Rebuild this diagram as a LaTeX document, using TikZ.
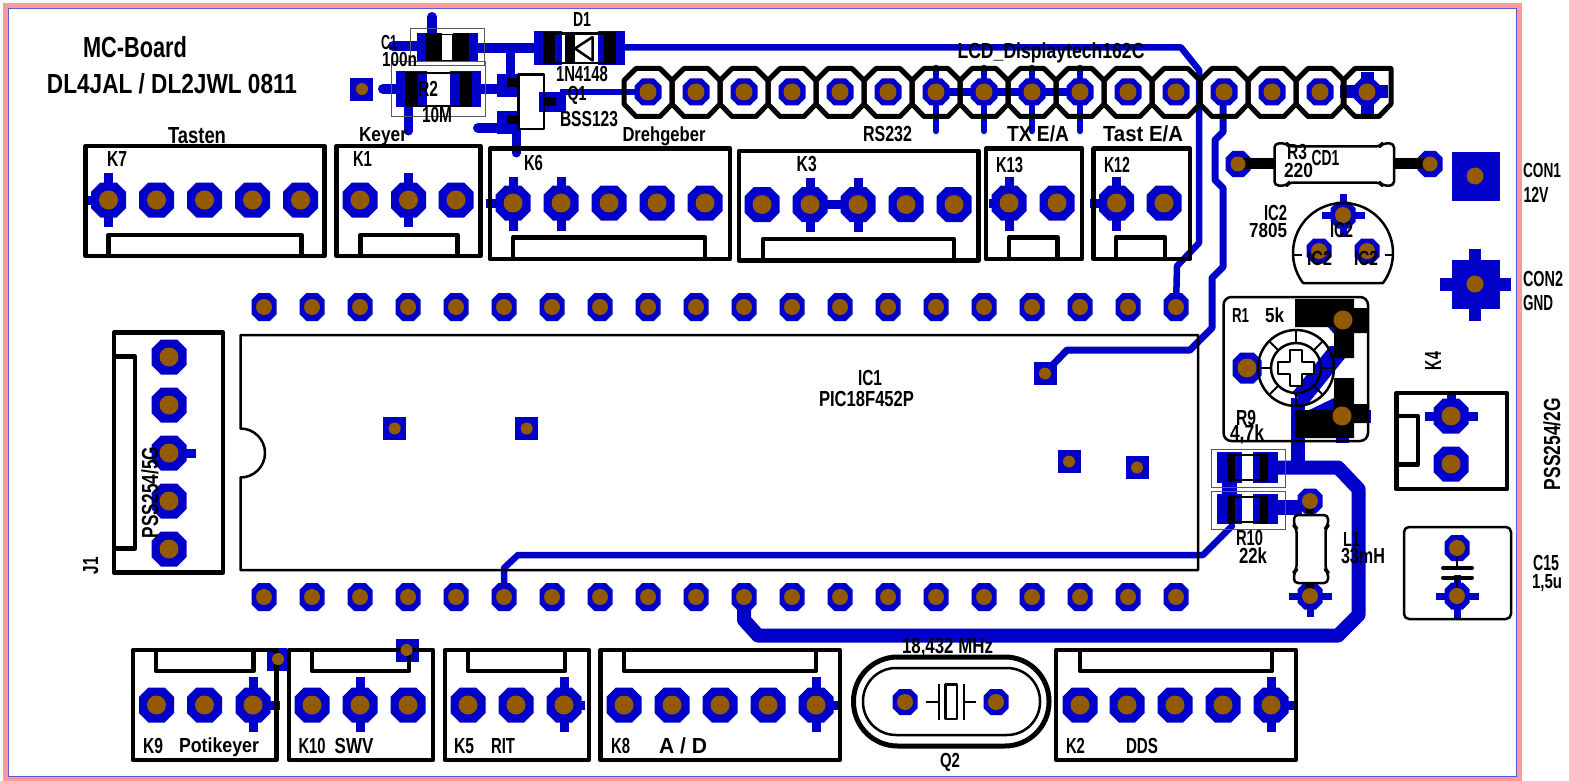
\documentclass[tikz,border=0pt]{standalone}
\usepackage{fontspec}
\usepackage{graphicx}
\usetikzlibrary{calc}
\setmainfont{Liberation Sans}
\definecolor{pblue}{RGB}{0,0,200}
\definecolor{pbrown}{RGB}{148,90,0}
\definecolor{ppink}{RGB}{255,153,153}
\definecolor{pedge}{RGB}{90,90,220}
\newcounter{txt}
\tikzset{
  tr/.style={draw=pblue,line width=#1,line join=round,line cap=round},
  st/.style={draw=pblue,line width=#1},
  sk/.style={draw=black,line width=#1,line join=round},
  thinbox/.style={draw=black!65,line width=1pt},
}
% octagon: x y w h
\newcommand\octa[4]{\fill[pblue] (#1-#3/2+.27*#3,#2-#4/2) -- (#1+#3/2-.27*#3,#2-#4/2) -- (#1+#3/2,#2-#4/2+.27*#3) -- (#1+#3/2,#2+#4/2-.27*#3) -- (#1+#3/2-.27*#3,#2+#4/2) -- (#1-#3/2+.27*#3,#2+#4/2) -- (#1-#3/2,#2+#4/2-.27*#3) -- (#1-#3/2,#2-#4/2+.27*#3) -- cycle;}
\newcommand\drill[3]{\fill[pbrown] (#1,#2) circle[radius=#3pt/2];}
\newcommand\T[6][0]{\stepcounter{txt}\node (txt\arabic{txt}) [anchor=base,inner sep=0pt,rotate=#1] at (#2,#3) {\resizebox{#4pt}{#5pt}{\bfseries\rule{0pt}{\fontcharht\font`H}\smash{#6}}};}
\newcommand\connbox[7]{% x1 x2 y1 y2 notchx1 notchx2 notchy
  \draw[sk=4.5pt] (#1,#3) rectangle (#2,#4);
  \draw[sk=4.5pt] (#5,#3) |- (#6,#7) -- (#6,#3);}
\newcommand\connboxB[7]{%
  \draw[sk=4.5pt] (#1,#3) rectangle (#2,#4);
  \draw[sk=4.5pt] (#5,#4) |- (#6,#7) -- (#6,#4);}
\def\bigpads{108.5/200,156.5/200,204.5/200,252.5/200,300.5/200,
 360/200,408.5/200,456/200,
 513/203,561/203,609/203,657/203,705/203,
 762/204.5,810/204.5,858/204.5,906/204.5,954/204.5,
 1009/203,1057/203,1116.5/203,1164/203,
 156.5/705,204.5/705,253/705,312/705,360/705,408/705,468/705,516/705,564/705,
 624/705,672/705,720/705,768/705,816/705,
 1080/705,1127/705,1175/705,1223/705,1271/705,
 169/357,169/405,169/453,169/501,169/549,1451/416,1451/464}
\def\sqpads{394.7/428.5,526.7/428.5,1045.5/373.5,1069/461.5,1137.5/467.5,361.5/89.5,407.5/650.5}
\begin{document}
\begin{tikzpicture}[x=1pt,y=-1pt]
\useasboundingbox (0,0) rectangle (1569,781);
\fill[white] (0,0) rectangle (1569,781);
\draw[ppink,line width=5.5pt] (5.5,5.5) rectangle (1519.5,778.5);
\draw[pedge,line width=.8pt] (8.5,8.5) rectangle (1516.5,776.5);
%%% copper: traces
\draw[tr=6.5pt] (625,47.5) -- (1181,47.5) -- (1199,70) -- (1199,243) -- (1177,266) -- (1176,307);
\draw[tr=7pt] (1223,92) -- (1223,132) -- (1215,140) -- (1215,180) -- (1223,188) -- (1223,267) -- (1212,278) -- (1212,328) -- (1190,350) -- (1067,350) -- (1045,373);
\draw[tr=6.5pt] (504,597) -- (504,568) -- (518,555) -- (1203,555) -- (1232,526);
\draw[tr=14pt] (744,597) -- (744,620) -- (758,635.5) -- (1338,635.5) -- (1358.5,615) -- (1358.5,489) -- (1338,467.5) -- (1278,467.5);
\draw[st=14pt] (1298,468) -- (1298,398);
\fill[pblue] (1292,393) -- (1330,346) -- (1345,346) -- (1345,358) -- (1307,405) -- cycle;
\fill[pblue] (1328,327) -- (1335,327) -- (1335,335) -- cycle;
\fill[pblue] (1305,412) -- (1334,398) -- (1336,412) -- cycle;
\draw[st=15pt] (1278,507) -- (1302,507);
\fill[pblue] (1222,482) rectangle (1237,495);
\draw[tr=10pt] (393,46) -- (417,46);
\draw[tr=10pt] (432,17) -- (432,35);
\draw[st=10pt] (478,48) -- (535,48);
\draw[st=9pt] (510,48) -- (510,80);
\draw[tr=10pt] (383,89) -- (397,89);
\draw[st=10pt] (480,89) -- (500,89);
\draw[tr=9pt] (408.5,105) -- (408.5,131);
\draw[tr=10pt] (478,128) -- (505,128);
\draw[tr=9pt] (516,130) -- (516,153);
\draw[st=6pt] (560,92) -- (648,92);
\draw[st=8pt] (936,92) -- (1080,92);
\foreach \x in {936,984,1032,1080} \draw[tr=6.5pt] (\x,68) -- (\x,131);
%%% copper: SMD lands
\fill[pblue] (417,33) rectangle (441.5,62);
\fill[pblue] (453,33) rectangle (478,62);
\fill[pblue] (396,71) rectangle (426.5,107.5);
\fill[pblue] (450,71) rectangle (481,107.5);
\fill[pblue] (534,31) rectangle (562,65);
\fill[pblue] (598,31) rectangle (625,65);
\fill[pblue] (497,74) rectangle (520,97);
\fill[pblue] (497,111) rectangle (520,134);
\fill[pblue] (539,92) rectangle (566,112);
\fill[pblue] (1217,452) rectangle (1242,483);
\fill[pblue] (1253,452) rectangle (1278,483);
\fill[pblue] (1217,494) rectangle (1242,524);
\fill[pblue] (1253,494) rectangle (1278,524);
%%% copper: stubs
\foreach \x/\y in {108.5/200,408.5/200,513/204,561/204,810/205,858/205,1009/204,1116.5/204} \draw[st=9pt] (\x,\y-27) -- (\x,\y+27);
\foreach \x/\y in {253/705,360/705,564/705,816/705,1271/705} \draw[st=9pt] (\x,\y-28) -- (\x,\y+27);
\draw[st=9pt] (86,200) -- (108,200);
\draw[st=9pt] (486,203) -- (513,203);
\draw[st=9pt] (810,204.5) -- (858,204.5);
\draw[st=9pt] (989,203) -- (1009,203);
\draw[st=9pt] (1090,203) -- (1116,203);
\draw[st=9pt] (253,705) -- (280,705);
\draw[st=9pt] (564,705) -- (585,705);
\draw[st=9pt] (816,705) -- (838,705);
\draw[st=9pt] (1271,705) -- (1298,705);
\draw[st=9pt] (169,453) -- (196,453);
\draw[st=9pt] (1425,416) -- (1478,416);
\draw[st=9pt] (1451,394) -- (1451,416);
\draw[st=13pt] (1340,416) -- (1371,416);
\draw[st=13pt] (1342,416) -- (1342,443);
\draw[st=7pt] (1322,215) -- (1365,215);
\draw[st=7pt] (1343,194) -- (1343,237);
\draw[st=7pt] (1289,596) -- (1332,596);
\draw[st=7pt] (1310,575) -- (1310,617);
\draw[st=7pt] (1436,596) -- (1479,596);
\draw[st=7pt] (1457,575) -- (1457,619);
\draw[st=13pt] (1340,92) -- (1388,92);
\draw[st=13pt] (1367,72) -- (1367,119);
\draw[st=13pt] (1440,284.5) -- (1511,284.5);
\draw[st=12pt] (1475,249) -- (1475,321);
%%% copper: pads
\foreach \x/\y in \bigpads \octa{\x}{\y}{35}{35};
\foreach \x in {0,...,19} {\octa{264+48*\x}{307}{25}{28} \octa{264+48*\x}{597}{25}{28}}
\foreach \x in {648,696,744,792,840,888,936,984,1032,1080,1128,1176,1224,1272,1320,1367} \octa{\x}{92}{27}{27};
\foreach \x/\y in \sqpads \fill[pblue] (\x-11.5,\y-11.5) rectangle (\x+11.5,\y+11.5);
\fill[pblue] (267,648) rectangle (287,671);
\fill[pblue] (1451.5,152) rectangle (1500,201);
\fill[pblue] (1451.5,260) rectangle (1500,309);
\octa{1238}{164}{25}{26} \octa{1430}{164}{25}{26}
\octa{1343}{215}{25}{27} \octa{1319}{251}{25}{25} \octa{1367}{251}{25}{25}
\octa{1247}{368}{29}{31}
\octa{1310}{501}{25}{25} \octa{1310}{596}{25}{27}
\octa{1457}{548}{25}{26} \octa{1457}{596}{25}{27}
\octa{905}{702}{25}{26} \octa{996}{702}{25}{26}
%%% silk: connector housings
\connbox{85.5}{324.5}{256}{146}{108.5}{301.5}{235}
\connbox{336.7}{480.4}{256}{146}{360.5}{457.5}{235}
\connbox{489.8}{730}{259}{148.7}{513}{705}{237.3}
\connbox{739}{978.5}{260.3}{151}{763}{954}{239}
\connbox{986}{1082}{259}{148.7}{1009}{1057.5}{237.3}
\connbox{1093.7}{1190}{259}{148.7}{1116}{1165}{237.3}
\connboxB{133}{276.6}{760}{650}{156}{253.6}{671}
\connboxB{289}{433}{760}{650}{312}{409}{671}
\connboxB{444.8}{589}{760}{650}{468}{565}{671}
\connboxB{600.5}{840}{760}{650}{624}{816}{671}
\connboxB{1056}{1296}{760}{650}{1080}{1272}{671}
\draw[sk=4.5pt] (114,332.5) rectangle (223,572.7);
\draw[sk=4.5pt] (114,356.7) -| (135,548.7) -- (114,548.7);
\draw[sk=4.5pt] (1396.3,393) rectangle (1507,489);
\draw[sk=4.5pt] (1396.3,416.2) -| (1418,464.5) -- (1396.3,464.5);
%%% silk: LCD header
\foreach \x in {648,696,744,792,840,888,936,984,1032,1080,1128,1176,1224,1272,1320}
 \draw[sk=5pt] (\x-12,68.5) -- (\x+12,68.5) -- (\x+24,80.5) -- (\x+24,104) -- (\x+12,116.5) -- (\x-12,116.5) -- (\x-24,104) -- (\x-24,80.5) -- cycle;
\draw[sk=5pt] (1355,68.5) -- (1391,68.5) -- (1391,104) -- (1379,116.5) -- (1355,116.5) -- (1343,104) -- (1343,80.5) -- cycle;
%%% silk: IC1
\draw[sk=2.5pt] (240.5,477.5) arc[start angle=-90,end angle=90,radius=24.5pt] -- (240.5,335) -- (1198,335) -- (1198,570) -- (240.5,570) -- cycle;
%%% silk: C1, R2
\draw[thinbox] (410,28.5) rectangle (484,66);
\draw[thinbox] (391.5,62) rectangle (485,117);
\fill (426,33.5) rectangle (441.5,61.5);
\fill (453,33.5) rectangle (469,61.5);
\draw[sk=1.8pt] (441.5,34.5) rectangle (453,60.5);
\fill (406,72) rectangle (418,107);
\fill (460,72) rectangle (471,107);
\draw[sk=2.2pt] (406,73) rectangle (471,106);
%%% silk: D1
\fill (544,32) rectangle (555,64.5);
\fill (604,32) rectangle (615,64.5);
\draw[sk=2.5pt] (544,33.5) rectangle (615,63);
\fill (565,33) rectangle (575,63);
\draw[sk=2.5pt] (575,48.5) -- (592.5,37) -- (592.5,60.5) -- cycle;
%%% silk: Q1
\fill (507,78) rectangle (520,87);
\fill (507,115) rectangle (520,124);
\fill (544,97) rectangle (556,106);
\draw[sk=2.5pt] (518.5,74.5) rectangle (544,129);
%%% silk: R3 / CD1
\draw[sk=11pt] (1238,164) -- (1275,164);
\draw[sk=11pt] (1394,164) -- (1430,164);
\draw[sk=2.5pt,fill=white,rounded corners=4pt] (1274.5,143.5) -- (1287,143.5) -- (1289,146.5) -- (1380,146.5) -- (1382,143.5) -- (1394,143.5) -- (1394,185.5) -- (1382,185.5) -- (1380,182.5) -- (1289,182.5) -- (1287,185.5) -- (1274.5,185.5) -- cycle;
%%% silk: IC2
\draw[sk=2.5pt] (1303,283) arc[start angle=216.9,end angle=-36.9,radius=50pt] -- cycle;
\draw[sk=2.5pt] (1293,255) -- (1302,255);
\draw[sk=2.5pt] (1385,255) -- (1394,255);
%%% silk: R1
\draw[sk=2.5pt,rounded corners=8pt] (1223.5,297) rectangle (1368,441);
\fill (1295,299) -- (1354,299) -- (1354,308) -- (1368,308) -- (1368,333) -- (1354,333) -- (1354,358) -- (1334,358) -- (1334,327) -- (1295,327) -- cycle;
\fill (1334,378) -- (1354,378) -- (1354,404) -- (1369,404) -- (1369,423) -- (1354,423) -- (1354,438) -- (1295,438) -- (1295,410) -- (1334,410) -- cycle;
\draw[sk=2.5pt] (1296,368) circle[radius=38pt];
\draw[sk=2.5pt] (1296,368) circle[radius=25pt];
\foreach \a in {0,45,...,315} \draw[sk=2pt] ($(1296,368)+(\a:25pt)$) -- ($(1296,368)+(\a:38pt)$);
\draw[sk=2.5pt,fill=white] (1290,350) -- (1302,350) -- (1302,362) -- (1314,362) -- (1314,374) -- (1302,374) -- (1302,386) -- (1290,386) -- (1290,374) -- (1278,374) -- (1278,362) -- (1290,362) -- cycle;
%%% silk: R9, R10
\draw[thinbox] (1211,449) rectangle (1285,487);
\draw[thinbox] (1211,491) rectangle (1285,529);
\foreach \y in {453,495} {
 \fill (1228,\y) rectangle (1235,\y+29);
 \fill (1260,\y) rectangle (1267,\y+29);
 \draw[sk=2pt] (1228,\y+1.5) rectangle (1267,\y+26.5);
}
%%% silk: L1
\draw[sk=8pt] (1310,505) -- (1310,515);
\draw[sk=8pt] (1310,583) -- (1310,592);
\draw[sk=2.5pt,fill=white,rounded corners=4pt] (1294,515) -- (1328,515) -- (1328,526) -- (1325.5,528) -- (1325.5,570) -- (1328,572) -- (1328,583) -- (1294,583) -- (1294,572) -- (1296.5,570) -- (1296.5,528) -- (1294,526) -- cycle;
%%% silk: C15
\draw[sk=2.5pt,rounded corners=5pt] (1404,527) rectangle (1511,619);
\draw[sk=2.5pt] (1457,557) -- (1457,568);
\draw[sk=2.5pt] (1457,577) -- (1457,588);
\draw[sk=4pt,line cap=round] (1443,568) -- (1472,568);
\draw[sk=4pt,line cap=round] (1443,577.5) -- (1472,577.5);
%%% silk: Q2
\draw[sk=5pt,rounded corners=44pt] (853.5,657) rectangle (1049,746);
\draw[sk=2.5pt,rounded corners=33pt] (863,668) rectangle (1040,735);
\draw[sk=2pt] (926,702) -- (939,702);
\draw[sk=2pt] (963,702) -- (976,702);
\draw[sk=2.5pt] (939,684) -- (939,720);
\draw[sk=2.5pt] (964,684) -- (964,720);
\draw[sk=2.5pt] (945.5,684.5) rectangle (957,719);
%%% drills
\foreach \x/\y in \bigpads \drill{\x}{\y}{19};
\foreach \x in {0,...,19} {\drill{264+48*\x}{307}{16} \drill{264+48*\x}{597}{16}}
\foreach \x in {648,696,744,792,840,888,936,984,1032,1080,1128,1176,1224,1272,1320,1367} \drill{\x}{92}{17};
\foreach \x/\y in {394.7/428.5,526.7/428.5,1045/373.5,1069/461.5,1137/467.5,362/89,278/659,406.5/650} \drill{\x}{\y}{12};
\drill{1475}{176}{17} \drill{1475}{284}{17}
\drill{1238}{164}{15} \drill{1430}{164}{15}
\drill{1343}{215}{16} \drill{1319}{251}{16} \drill{1367}{251}{16}
\drill{1247}{368}{19} \drill{1343}{320}{19} \drill{1342}{416}{19}
\drill{1310}{501}{16} \drill{1310}{596}{16}
\drill{1457}{548}{16} \drill{1457}{596}{16}
\drill{905}{702}{16} \drill{996}{702}{16}
%%% text
\T{135}{58}{104}{20}{MC-Board}
\T{172}{94}{250}{19}{DL4JAL / DL2JWL 0811}
\T{389}{50}{16}{14}{C1}
\T{399.5}{67}{35}{14}{100n}
\T{428}{97}{20}{15}{R2}
\T{437}{123}{30}{15}{10M}
\T{582}{27}{18}{14}{D1}
\T{582}{82}{52}{15}{1N4148}
\T{577}{101}{19}{14}{Q1}
\T{589}{127}{58}{15}{BSS123}
\T{1051}{59}{187}{15}{LCD\_Displaytech162C}
\T{197}{143}{58}{16}{Tasten}
\T{383}{141}{48}{14}{Keyer}
\T{664}{141}{83}{14}{Drehgeber}
\T{887.5}{142}{49}{15}{RS232}
\T{1038}{142}{62}{15}{TX E/A}
\T{1143}{142}{80}{15}{Tast E/A}
\T{117}{167}{20}{15}{K7}
\T{362.5}{167}{19}{15}{K1}
\T{533.5}{171}{19}{15}{K6}
\T{806.7}{172}{20}{15}{K3}
\T{1009.5}{173}{27}{15}{K13}
\T{1117}{173}{26}{15}{K12}
\T{1297}{160}{20}{15}{R3}
\T{1298.5}{177}{29}{14}{220}
\T{1325.5}{166}{27.7}{15}{CD1}
\T{1542}{177}{38}{14}{CON1}
\T{1536}{202}{25}{15}{12V}
\T{1543}{286}{40}{15}{CON2}
\T{1538}{310}{30}{15}{GND}
\T{1275.5}{220}{23}{15}{IC2}
\T{1268}{237}{38}{14}{7805}
\T{1341.5}{237}{23}{15}{IC2}
\T{1319.5}{265}{25}{14}{IC2}
\T{1366}{265}{24}{14}{IC2}
\T{1240.5}{322}{17}{14}{R1}
\T{1274.5}{322}{19}{14}{5k}
\T[90]{1441}{361}{18}{16}{K4}
\T{1246}{425}{20}{15}{R9}
\T{1247}{440}{34}{15}{4,7k}
\T[90]{1560}{444}{92}{16}{PSS254/2G}
\T{1249.5}{545}{27}{15}{R10}
\T{1253}{563}{28}{15}{22k}
\T{1351.5}{546}{17}{14}{L1}
\T{1363}{563}{44}{15}{33mH}
\T{1546}{570}{26}{15}{C15}
\T{1547}{588}{30}{14}{1,5u}
\T[90]{158}{492.5}{91}{16}{PSS254/5G}
\T[90]{98}{565.5}{17}{15}{J1}
\T{870}{385}{24}{15}{IC1}
\T{866.5}{406}{95}{15}{PIC18F452P}
\T{153}{753}{20}{15}{K9}
\T{219}{752}{80}{14}{Potikeyer}
\T{312}{753}{27}{15}{K10}
\T{354}{753}{38.6}{15}{SWV}
\T{464}{753}{20}{15}{K5}
\T{503}{753}{24}{15}{RIT}
\T{620.7}{753}{19}{15}{K8}
\T{683}{753}{48}{15}{A / D}
\T{1075.5}{753}{19}{15}{K2}
\T{1142}{753}{32}{15}{DDS}
\T{947.5}{653}{91}{15}{18,432 MHz}
\T{950}{767}{20}{14}{Q2}
\end{tikzpicture}
\end{document}
